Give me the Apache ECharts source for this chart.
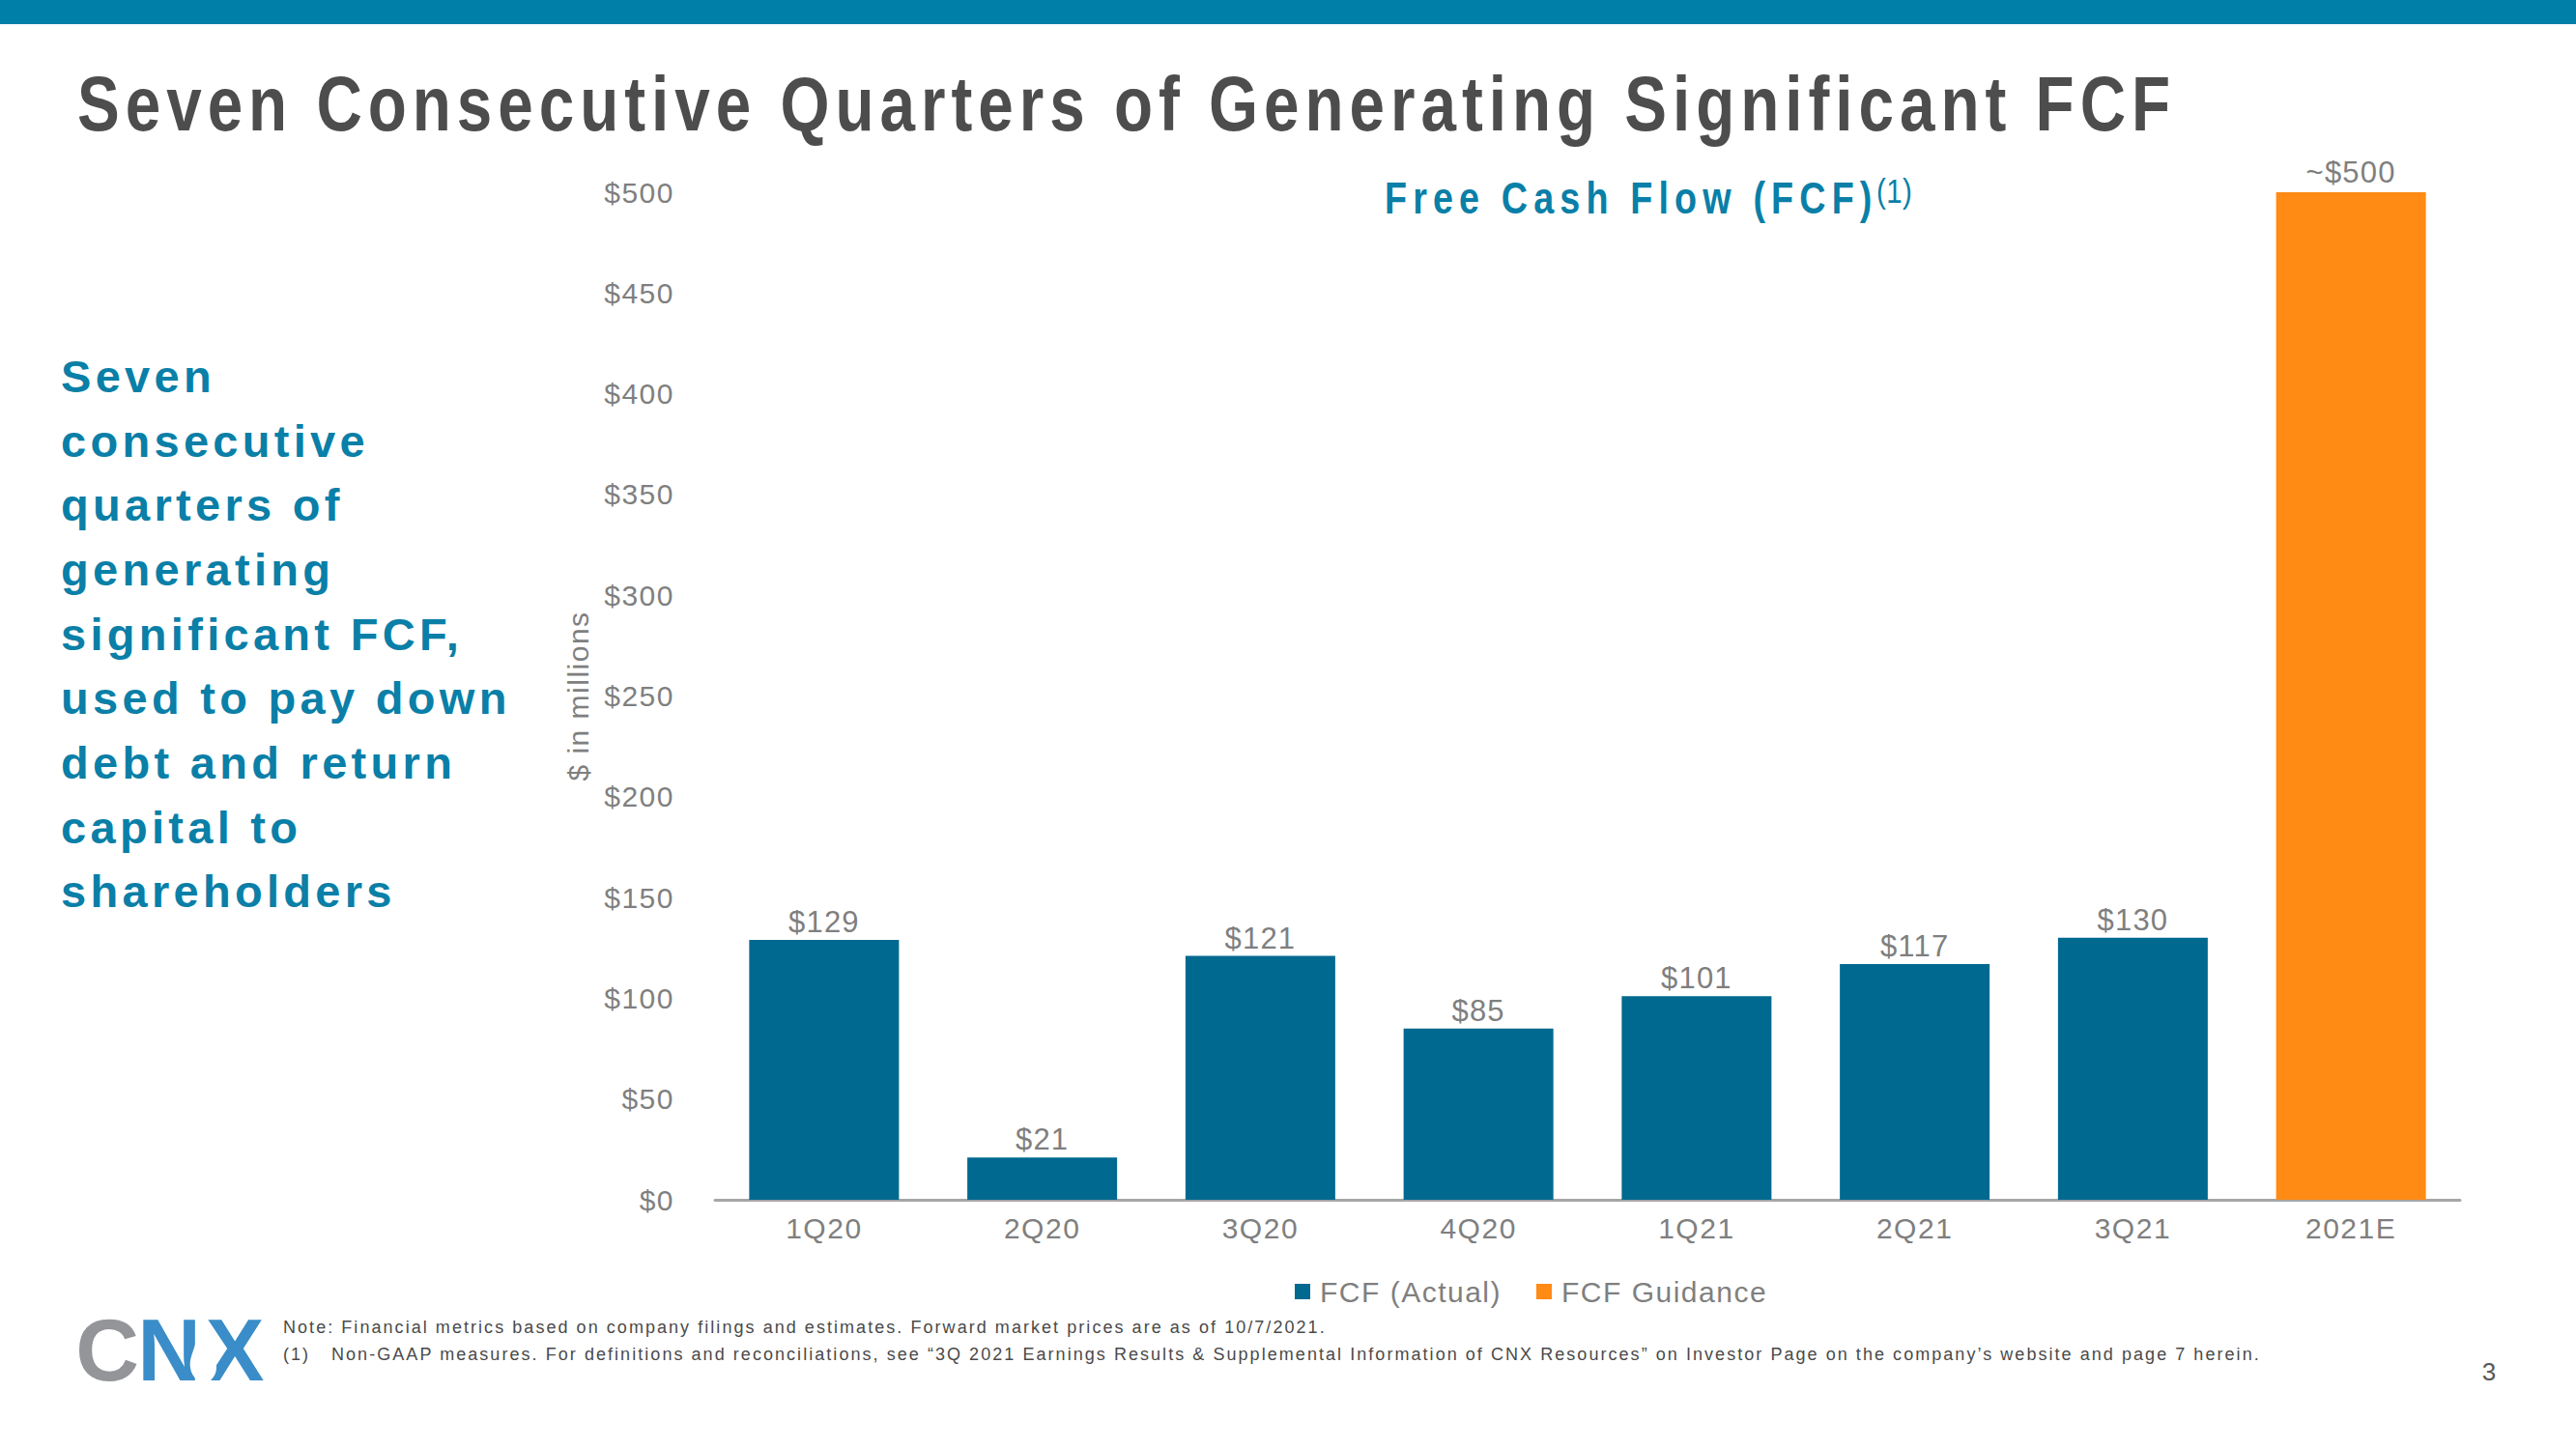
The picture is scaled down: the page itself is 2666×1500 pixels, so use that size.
<!DOCTYPE html>
<html>
<head>
<meta charset="utf-8">
<script src="https://cdn.jsdelivr.net/npm/echarts@6/dist/echarts.min.js"></script>
<style>
html, body { margin: 0; padding: 0; background: #ffffff; }
#chart { width: 2666px; height: 1500px; }
#chart text[style*="80px"] { letter-spacing: 7.3px; }
#chart text[style*="46px"] { letter-spacing: 7.5px; }
#chart text[style*="47px"] { letter-spacing: 4.3px; }
#chart text[style*="30px"] { letter-spacing: 1.5px; }
#chart text[style*="31px"] { letter-spacing: 1.2px; }
#chart text[style*="18px"] { letter-spacing: 2.05px; }
#chart text[style*="36px"] { letter-spacing: 0.5px; }
</style>
</head>
<body>
<div id="chart"></div>
<script>
// ---- data ----
const categories = ['1Q20', '2Q20', '3Q20', '4Q20', '1Q21', '2Q21', '3Q21', '2021E'];
const fcfActual = [129, 21, 121, 85, 101, 117, 130, null];
const fcfGuidance = [null, null, null, null, null, null, null, 500];
const seriesNames = ['FCF (Actual)', 'FCF Guidance'];
const yMin = 0, yMax = 500, yStep = 50;

const titleText = 'Seven Consecutive Quarters of Generating Significant FCF';
const subtitleText = 'Free Cash Flow (FCF)';
const subtitleSup = '(1)';
const sideText = ['Seven', 'consecutive', 'quarters of', 'generating', 'significant FCF,', 'used to pay down', 'debt and return', 'capital to', 'shareholders'];
const yAxisName = '$ in millions';
const noteLine = 'Note: Financial metrics based on company filings and estimates. Forward market prices are as of 10/7/2021.';
const footMark = '(1)';
const footLine = 'Non-GAAP measures. For definitions and reconciliations, see \u201c3Q 2021 Earnings Results & Supplemental Information of CNX Resources\u201d on Investor Page on the company\u2019s website and page 7 herein.';
const pageNum = '3';

// ---- styles ----
const BLUE_BAR = '#006990';
const ORANGE = '#FF8A14';
const BRAND = '#0A7FA7';
const GRAY = '#7F7F7F';
const SANS = "'Liberation Sans', Arial, sans-serif";
const NARROW_SCALE = 0.82;

const chart = echarts.init(document.getElementById('chart'), null, { renderer: 'svg' });

const option = {
  animation: false,
  backgroundColor: '#ffffff',
  textStyle: { fontFamily: SANS },
  grid: { left: 740, right: 120, top: 199, bottom: 258, containLabel: false },
  legend: {
    data: seriesNames,
    left: 1335,
    top: 1317,
    icon: 'rect',
    itemWidth: 16,
    itemHeight: 16,
    itemGap: 54,
    textStyle: { fontSize: 30, color: GRAY, fontFamily: SANS, padding: [0, 0, 0, 5] }
  },
  xAxis: {
    type: 'category',
    data: categories,
    axisLine: { show: true, lineStyle: { color: '#A6A6A6', width: 3 } },
    axisTick: { show: false },
    axisLabel: { fontSize: 30, color: GRAY, margin: 14, fontFamily: SANS },
    splitLine: { show: false }
  },
  yAxis: {
    type: 'value',
    min: yMin,
    max: yMax,
    interval: yStep,
    name: yAxisName,
    nameLocation: 'middle',
    nameRotate: 90,
    nameGap: 127,
    nameTextStyle: { fontSize: 30, color: GRAY, fontFamily: SANS },
    axisLine: { show: false },
    axisTick: { show: false },
    splitLine: { show: false },
    axisLabel: {
      fontSize: 30, color: GRAY, margin: 42, fontFamily: SANS,
      formatter: v => '$' + v
    }
  },
  series: [
    {
      name: seriesNames[0],
      type: 'bar',
      data: fcfActual,
      barWidth: 155,
      barGap: '-100%',
      itemStyle: { color: BLUE_BAR },
      label: {
        show: true, position: 'top', distance: 3,
        fontSize: 31, color: GRAY, fontFamily: SANS,
        formatter: p => '$' + p.value
      }
    },
    {
      name: seriesNames[1],
      type: 'bar',
      data: fcfGuidance,
      barWidth: 155,
      barGap: '-100%',
      itemStyle: { color: ORANGE },
      label: {
        show: true, position: 'top', distance: 5,
        fontSize: 31, color: GRAY, fontFamily: SANS,
        formatter: p => '~$' + p.value
      }
    }
  ],
  graphic: [
    { type: 'rect', shape: { x: 0, y: 0, width: 2666, height: 25 }, style: { fill: '#007FA8' } },
    { type: 'text', x: 80, y: 108, scaleX: NARROW_SCALE, style: { text: titleText, fontSize: 80, fontWeight: 'bold', fontFamily: SANS, fill: '#4D4D4D', textVerticalAlign: 'middle', textAlign: 'left' } },
    { type: 'text', x: 1433, y: 205, scaleX: NARROW_SCALE, style: { text: subtitleText, fontSize: 46, fontWeight: 'bold', fontFamily: SANS, fill: BRAND, textVerticalAlign: 'middle', textAlign: 'left' } },
    { type: 'text', x: 1942, y: 197, scaleX: NARROW_SCALE, style: { text: subtitleSup, fontSize: 36, fontWeight: 'normal', fontFamily: SANS, fill: BRAND, textVerticalAlign: 'middle', textAlign: 'left' } },
    { type: 'text', x: 63, y: 356, style: { text: sideText.join('\n'), fontSize: 47, fontWeight: 'bold', fontFamily: SANS, fill: BRAND, lineHeight: 66.7, textVerticalAlign: 'top', textAlign: 'left' } },
    { type: 'text', x: 293, y: 1374, style: { text: noteLine, fontSize: 18, fontFamily: SANS, fill: '#4A4A4A', textVerticalAlign: 'middle', textAlign: 'left' } },
    { type: 'text', x: 293, y: 1402, style: { text: footMark, fontSize: 18, fontFamily: SANS, fill: '#4A4A4A', textVerticalAlign: 'middle', textAlign: 'left' } },
    { type: 'text', x: 343, y: 1402, style: { text: footLine, fontSize: 18, fontFamily: SANS, fill: '#4A4A4A', textVerticalAlign: 'middle', textAlign: 'left' } },
    { type: 'text', x: 2576, y: 1420, style: { text: pageNum, fontSize: 26, fontFamily: SANS, fill: '#595959', textVerticalAlign: 'middle', textAlign: 'center' } },
    // CNX logo
    { type: 'text', x: 111, y: 1397, style: { text: 'C', fontSize: 91, fontWeight: 900, fontFamily: SANS, fill: '#939598', textVerticalAlign: 'middle', textAlign: 'center' } },
    { type: 'text', x: 175, y: 1397, style: { text: 'N', fontSize: 91, fontWeight: 900, fontFamily: SANS, fill: '#3A8DC8', textVerticalAlign: 'middle', textAlign: 'center' } },
    { type: 'text', x: 243, y: 1397, style: { text: 'X', fontSize: 91, fontWeight: 900, fontFamily: SANS, fill: '#3A8DC8', textVerticalAlign: 'middle', textAlign: 'center' } },
    { type: 'polygon', shape: { points: [[210, 1378], [200, 1398], [197, 1416], [204, 1429], [211, 1431], [219, 1428], [224, 1416], [220, 1398]], smooth: 0.4 }, style: { fill: '#ffffff' } }
  ]
};

chart.setOption(option);
</script>
</body>
</html>
